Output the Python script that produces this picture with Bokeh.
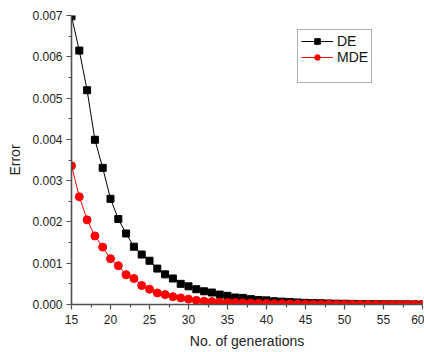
from bokeh.plotting import figure
from bokeh.models import FixedTicker, NumeralTickFormatter, Range1d, Legend, LegendItem
from bokeh.embed import file_html
from bokeh.resources import INLINE

generations = list(range(15, 61))
de_error = [0.00698, 0.00615, 0.00519, 0.00399, 0.00331, 0.00256, 0.00207, 0.00172,
            0.00140, 0.00121, 0.00106, 0.00087, 0.00073, 0.00063, 0.00050, 0.00044,
            0.00037, 0.00032, 0.00029, 0.00024, 0.00021, 0.00017, 0.00016, 0.00013,
            0.00011, 0.00010, 0.00008, 0.00007, 0.00006, 0.00005, 0.00004, 0.000035,
            0.00003, 0.000025, 0.00002, 0.000018, 0.000015, 0.000012, 0.00001, 0.000009,
            0.000008, 0.000006, 0.000005, 0.000004, 0.000003, 0.000003]
mde_error = [0.00336, 0.00261, 0.00205, 0.00166, 0.00139, 0.00111, 0.00094, 0.00072,
             0.00063, 0.00046, 0.00037, 0.00028, 0.00024, 0.00019, 0.00016, 0.00013,
             0.00010, 0.00008, 0.00007, 0.00006, 0.00005, 0.000045, 0.00004, 0.000035,
             0.00003, 0.000025, 0.00002, 0.000018, 0.000015, 0.000013, 0.000011, 0.00001,
             0.000009, 0.000008, 0.000007, 0.000006, 0.000005, 0.000004, 0.000004, 0.000003,
             0.000003, 0.000002, 0.000002, 0.000002, 0.000002, 0.000002]
x_ticks = [15, 20, 25, 30, 35, 40, 45, 50, 55, 60]
y_ticks = [0.0, 0.001, 0.002, 0.003, 0.004, 0.005, 0.006, 0.007]

FONT = "Liberation Sans"
AXIS_COLOR = "#505050"

p = figure(width=424, height=352, output_backend="svg", toolbar_location=None,
           x_range=Range1d(15, 60), y_range=Range1d(0, 0.007),
           min_border_left=71, min_border_right=2, min_border_top=15, min_border_bottom=48)
p.outline_line_color = None
p.grid.visible = False
p.background_fill_color = "white"

de_line = p.line(generations, de_error, line_color="black", line_width=1)
de_pts = p.scatter(generations, de_error, marker="square", size=7,
                   fill_color="black", line_color="black")
mde_line = p.line(generations, mde_error, line_color="red", line_width=1)
mde_pts = p.scatter(generations, mde_error, marker="circle", size=8,
                    fill_color="red", line_color="red")
blank = p.line([], [], line_alpha=0)

for ax in (p.xaxis[0], p.yaxis[0]):
    ax.axis_line_color = AXIS_COLOR
    ax.axis_line_width = 1.6
    ax.major_tick_line_color = AXIS_COLOR
    ax.minor_tick_line_color = AXIS_COLOR
    ax.major_tick_line_width = 1.2
    ax.minor_tick_line_width = 1.2
    ax.major_tick_out = 5
    ax.major_tick_in = 0
    ax.minor_tick_out = 3
    ax.minor_tick_in = 0
    ax.major_label_text_font = FONT
    ax.major_label_text_font_size = "12px"
    ax.major_label_text_color = "#222222"
    ax.axis_label_text_font = FONT
    ax.axis_label_text_font_size = "14px"
    ax.axis_label_text_font_style = "normal"
    ax.axis_label_text_color = "#222222"

p.xaxis.ticker = FixedTicker(ticks=x_ticks,
                             minor_ticks=[v + 2.5 for v in x_ticks[:-1]])
p.yaxis.ticker = FixedTicker(ticks=y_ticks,
                             minor_ticks=[v + 0.0005 for v in y_ticks[:-1]])
p.yaxis.formatter = NumeralTickFormatter(format="0.000")
p.xaxis.major_label_standoff = 5
p.yaxis.major_label_standoff = 4
p.xaxis.axis_label = "No. of generations"
p.yaxis.axis_label = "Error"
p.xaxis.axis_label_standoff = 6
p.yaxis.axis_label_standoff = 6

legend = Legend(items=[
    LegendItem(label="DE", renderers=[de_line, de_pts]),
    LegendItem(label="MDE", renderers=[mde_line, mde_pts]),
    LegendItem(label=" ", renderers=[blank]),
], location=(226, 221))
legend.border_line_color = "#606060"
legend.border_line_width = 1.5
legend.background_fill_color = "white"
legend.label_text_font = FONT
legend.label_text_font_size = "14px"
legend.label_text_color = "#111111"
legend.glyph_width = 32
legend.glyph_height = 14
legend.label_height = 14
legend.label_standoff = 4
legend.spacing = 0
legend.padding = 3
legend.margin = 0
p.add_layout(legend, "center")

open("out.html", "w").write(file_html(p, INLINE))
